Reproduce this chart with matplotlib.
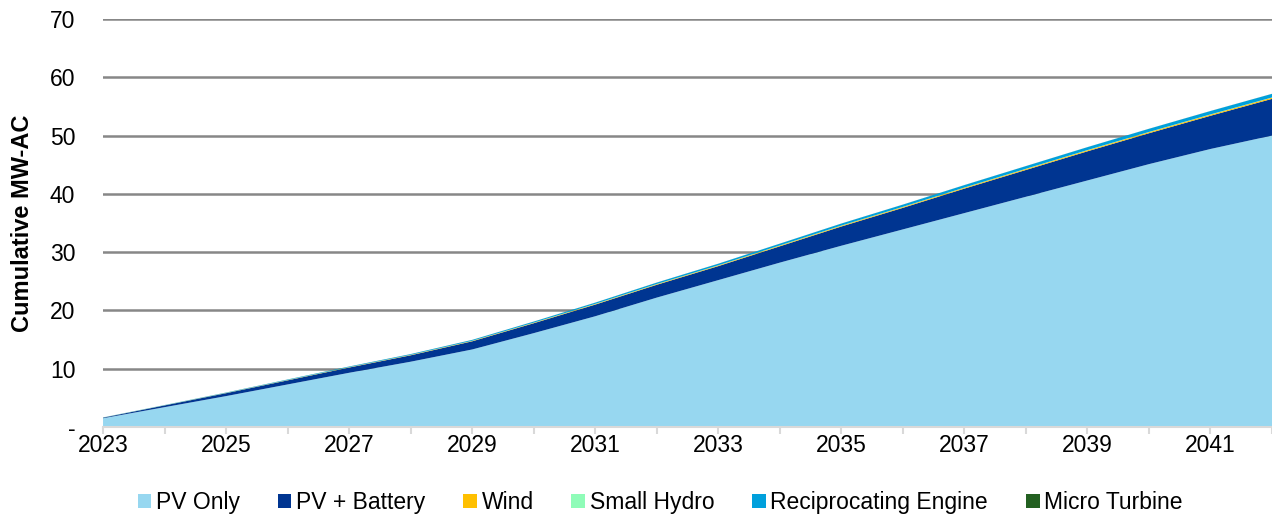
import matplotlib
matplotlib.use("Agg")
import matplotlib.pyplot as plt
from matplotlib.patches import Patch

plt.rcParams['font.family'] = ['Liberation Sans', 'DejaVu Sans']

years = list(range(2023, 2043))
pv_only = [1.5, 3.4, 5.3, 7.3, 9.3, 11.2, 13.3, 16.1, 19.0, 22.2,
           25.2, 28.2, 31.1, 33.9, 36.7, 39.5, 42.3, 45.1, 47.7, 50.0]
pv_battery = [0.1, 0.3, 0.5, 0.7, 0.9, 1.1, 1.4, 1.7, 2.0, 2.2,
              2.4, 2.8, 3.3, 3.7, 4.2, 4.6, 5.0, 5.3, 5.7, 6.3]
wind = [0.01, 0.02, 0.03, 0.04, 0.05, 0.06, 0.07, 0.08, 0.09, 0.10,
        0.11, 0.12, 0.13, 0.14, 0.15, 0.16, 0.17, 0.18, 0.19, 0.20]
small_hydro = [0.01, 0.01, 0.01, 0.02, 0.02, 0.02, 0.02, 0.02, 0.03, 0.03,
               0.03, 0.03, 0.03, 0.03, 0.03, 0.04, 0.04, 0.04, 0.04, 0.04]
recip_engine = [0.02, 0.04, 0.06, 0.08, 0.10, 0.12, 0.15, 0.18, 0.21, 0.24,
                0.27, 0.30, 0.34, 0.38, 0.42, 0.46, 0.50, 0.54, 0.58, 0.62]
micro_turbine = [0.0, 0.0, 0.01, 0.01, 0.01, 0.01, 0.01, 0.01, 0.01, 0.01,
                 0.01, 0.01, 0.01, 0.01, 0.01, 0.01, 0.01, 0.01, 0.01, 0.01]

labels = ["PV Only", "PV + Battery", "Wind", "Small Hydro",
          "Reciprocating Engine", "Micro Turbine"]
colors = ["#97d7f0", "#003591", "#ffc000", "#8ffcb8", "#00a0dc", "#236021"]

fig = plt.figure(figsize=(12.72, 5.18), dpi=100)
ax = fig.add_axes([0.081, 0.1757, 0.919, 0.7876])

ax.stackplot(years, pv_only, pv_battery, wind, small_hydro, recip_engine,
             micro_turbine, colors=colors, linewidth=0)

ax.set_xlim(2023, 2042)
ax.set_ylim(0, 70)
ax.set_yticks(range(0, 71, 10))
ax.set_yticklabels(["-"] + [str(v) for v in range(10, 71, 10)], fontsize=16.5)
ax.yaxis.grid(True, color="#878787", linewidth=1.8)
ax.set_axisbelow(True)
ax.tick_params(axis='y', length=0, pad=20)

ax.set_xticks(years)
ax.set_xticklabels([str(y) if (y - 2023) % 2 == 0 else "" for y in years],
                   fontsize=16.5)
ax.tick_params(axis='x', length=5, color="#d9d9d9", width=1.5, pad=0)

for s in ["top", "right", "left"]:
    ax.spines[s].set_visible(False)
ax.spines["bottom"].set_color("#d9d9d9")
ax.spines["bottom"].set_linewidth(1.5)

ax.set_ylabel("Cumulative MW-AC", fontsize=17, fontweight="bold")
ax.yaxis.set_label_coords(-0.059, 0.5)

handles = [Patch(facecolor=c, edgecolor="none") for c in colors]
fig.legend(handles, labels, loc="lower center", ncol=6, frameon=False,
           fontsize=16.5, bbox_to_anchor=(0.519, -0.032), handlelength=0.6,
           handleheight=0.6, handletextpad=0.2, columnspacing=1.65)

fig.savefig("out.png", dpi=100)
